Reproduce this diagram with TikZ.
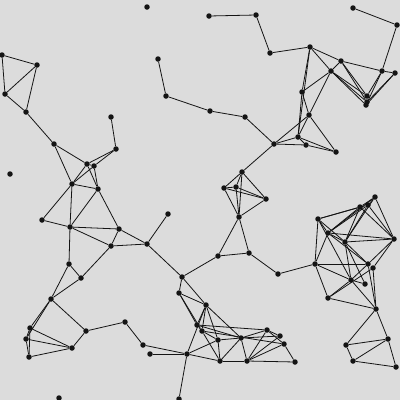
\documentclass[tikz,border=0pt]{standalone}
\definecolor{bg}{RGB}{220,220,220}
\definecolor{ink}{RGB}{20,20,20}
\tikzset{
  dot/.style={circle,fill=ink,inner sep=0pt,minimum size=5.5pt},
  link/.style={draw=ink,line width=0.8pt}
}
\begin{document}
\begin{tikzpicture}[x=1pt,y=-1pt]
\fill[bg] (0,0) rectangle (400,400);
\useasboundingbox (0,0) rectangle (400,400);
\foreach \n/\x/\y in {
a1/2/55,a2/37/65,a3/5/94,a4/26/112,
b1/147/7,b2/209/16,b3/256/15,b4/270/53,b5/158/59,b6/166/96,b7/210/111,b8/245/117,b9/274/144,
c1/111/117,
t1/310/47,t2/341/61,t3/331/71,t4/382/71,t5/395/73,t6/302/92,t7/367/96,t8/367/102,t9/366/105,
t10/309/115,t11/298/137,t12/306/145,t13/336/152,t14/353/8,t15/397/25,
l1/54/144,l2/116/149,l3/87/164,l4/94/166,l5/72/184,l6/98/189,l7/42/220,l8/70/227,l9/119/229,
l10/111/246,l11/69/264,l12/10/174,
m1/168/214,m2/147/244,
k1/242/172,k2/224/188,k3/236/187,k4/266/199,k5/239/217,k6/218/256,k7/249/253,k8/278/274,
r1/375/197,r2/360/207,r3/368/205,r4/318/219,r5/328/233,r6/345/242,r7/394/239,r8/315/264,
r9/368/264,r10/373/268,r11/351/280,r12/365/284,r13/328/298,r14/376/309,
s1/346/345,s2/388/339,s3/353/361,s4/396/367,
w1/81/278,w2/51/299,w3/30/328,w4/26/339,w5/29/357,w6/86/331,w7/72/348,w8/125/322,w9/59/398,
u1/182/277,u2/179/293,u3/206/305,u4/197/325,u5/202/331,u6/218/340,u7/241/338,u8/267/330,
u9/280/336,u10/284/344,u11/143/345,u12/150/354,u13/187/354,u14/220/361,u15/247/361,u16/295/362,u17/179/399}
  \node[dot] (\n) at (\x,\y) {};
\foreach \p/\q in {
a1/a2,a1/a3,a2/a3,a2/a4,a3/a4,a4/l1,
b2/b3,b3/b4,b4/t1,b5/b6,b6/b7,b7/b8,b8/b9,b9/k1,
c1/l2,t14/t15,t15/t4,
t1/t2,t1/t3,t1/t6,t1/t11,t2/t3,t2/t4,t2/t7,t2/t8,t3/t6,t3/t7,t3/t8,t3/t9,t3/t10,
t4/t5,t4/t7,t4/t9,t5/t8,t5/t9,t6/t11,t6/t10,t10/t11,t10/t13,t10/b9,t11/t12,t11/b9,t12/b9,t11/t13,t12/t13,
l1/l3,l1/l5,l2/l3,l2/l4,l3/l4,l3/l5,l4/l5,l3/l6,l4/l6,l5/l6,l5/l7,l5/l8,l6/l8,l6/l9,
l7/l8,l8/l9,l8/l10,l8/l11,l9/l10,l9/m2,l10/m2,l10/w1,l11/w1,l11/w2,w1/w2,
m1/m2,m2/u1,
k1/k2,k1/k3,k1/k5,k1/k4,k2/k3,k2/k4,k3/k4,k2/k5,k3/k5,k4/k5,k5/k6,k5/k7,k6/k7,k6/u1,k7/k8,k8/r8,
r1/r2,r1/r3,r1/r7,r1/r5,r1/r6,r2/r4,r3/r4,r2/r5,r3/r5,r2/r6,r3/r6,r2/r7,r3/r7,r4/r5,r4/r6,
r4/r8,r4/r11,r5/r6,r5/r8,r5/r9,r6/r7,r6/r11,r6/r9,r6/r12,r7/r9,r7/r10,r8/r11,r8/r13,r8/r9,
r9/r11,r10/r13,r9/r14,r11/r13,r11/r14,r13/r14,r10/r14,r12/r11,r5/r7,
r14/s1,r14/s2,s1/s2,s1/s3,s3/s4,s2/s4,s2/s3,
w2/w3,w2/w4,w2/w6,w3/w4,w3/w7,w4/w7,w4/w5,w3/w5,w5/w7,w6/w7,w6/w8,w8/u11,
u1/u2,u1/u3,u2/u3,u2/u4,u2/u5,u3/u4,u3/u5,u3/u6,u3/u7,u3/u13,u4/u5,u4/u7,u4/u8,u5/u6,
u5/u14,u5/u10,u6/u13,u6/u14,u6/u7,u7/u14,u7/u15,u7/u8,u7/u9,u8/u15,u8/u9,u8/u10,u9/u15,
u10/u15,u10/u16,u15/u16,u14/u15,u13/u14,u13/u17,u13/u11,u13/u12}
  \draw[link] (\p) -- (\q);
\end{tikzpicture}
\end{document}
